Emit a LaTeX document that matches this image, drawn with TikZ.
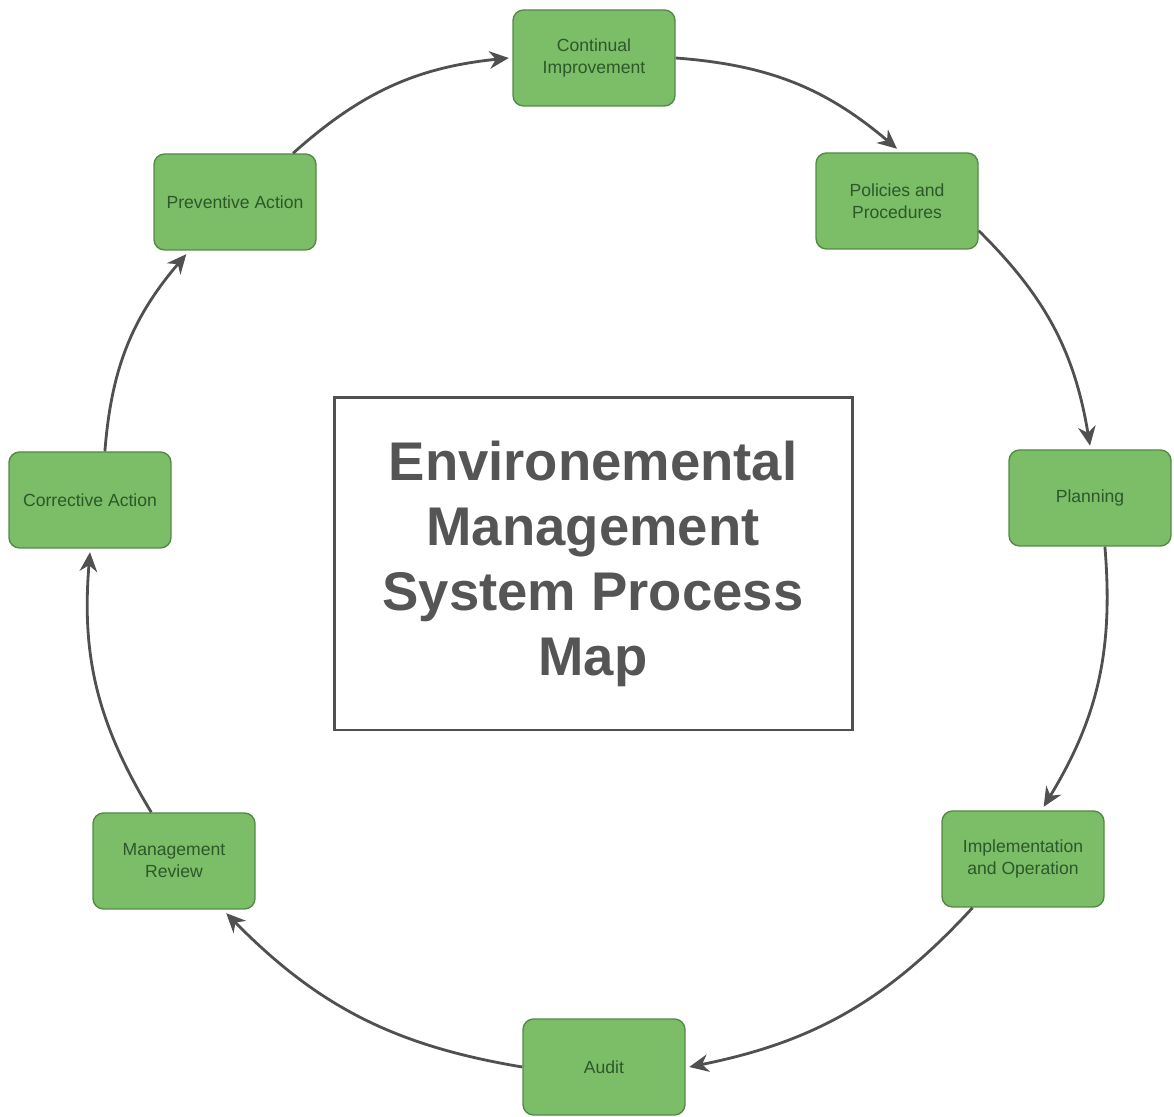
\documentclass[tikz,border=0pt]{standalone}
\usepackage{fontspec}
\setmainfont{Liberation Sans}
\usepackage{tikz}
\usetikzlibrary{arrows.meta,positioning}
\definecolor{greeni}{RGB}{124,189,104}
\definecolor{greenii}{RGB}{84,138,70}
\definecolor{greeniii}{RGB}{44,88,42}
\definecolor{grayi}{RGB}{80,80,80}
\definecolor{grayii}{RGB}{85,85,85}
\tikzset{
      mystepblock/.style={
        draw=greenii,
        fill=greeni,
        line width=0.8pt,
        rounded corners=6pt,
        align=center,
        text=greeniii,
        font=\fontsize{10}{12.5}\selectfont,
        minimum width=3.24cm,
        minimum height=1.92cm
      },
      mytitleblock/.style={
        draw=grayi,
        line width=1.7pt,
        align=center,
        text=grayii,
        font=\fontsize{31}{37}\selectfont\bfseries,
        minimum width=10.36cm,
        minimum height=6.64cm
      },
      mycycle/.style={
        draw=grayi,
        line width=1.6pt,
        -{Stealth[length=11pt,width=10pt]},
        bend left=18
      },
    }
\begin{document}
\begin{tikzpicture}

          \useasboundingbox (0,0) rectangle (23.48,22.32);

          \node[mytitleblock] (titol) at (11.86,11.04)
            {Environemental\\Management\\System Process\\Map};

          \node[mystepblock] (continual) at (11.88,21.16)
            {Continual\\Improvement};
          \node[mystepblock] (policies) at (17.94,18.30)
            {Policies and\\Procedures};
          \node[mystepblock] (planning) at (21.80,12.36)
            {Planning};
          \node[mystepblock] (implementation) at (20.46,5.14)
            {Implementation\\and Operation};
          \node[mystepblock] (audit) at (12.08,0.98)
            {Audit};
          \node[mystepblock] (review) at (3.48,5.10)
            {Management\\Review};
          \node[mystepblock] (corrective) at (1.80,12.32)
            {Corrective Action};
          \node[mystepblock] (preventive) at (4.70,18.28)
            {Preventive Action};

          \draw[mycycle] (continual.east) to ([yshift=2pt]policies.north);
          \draw[mycycle] (policies.-20) to ([yshift=2pt]planning.north);
          \draw[mycycle] (planning.-73) to ([yshift=2pt]implementation.67);
          \draw[mycycle] (implementation.224) to ([xshift=2pt]audit.east);
          \draw[mycycle] (audit.west) to ([yshift=-2pt]review.-43);
          \draw[mycycle] (review.115) to ([yshift=-2pt]corrective.south);
          \draw[mycycle] (corrective.73) to ([yshift=-2pt]preventive.225);
          \draw[mycycle] (preventive.40) to ([xshift=-2pt]continual.west);
        \end{tikzpicture}
\end{document}
